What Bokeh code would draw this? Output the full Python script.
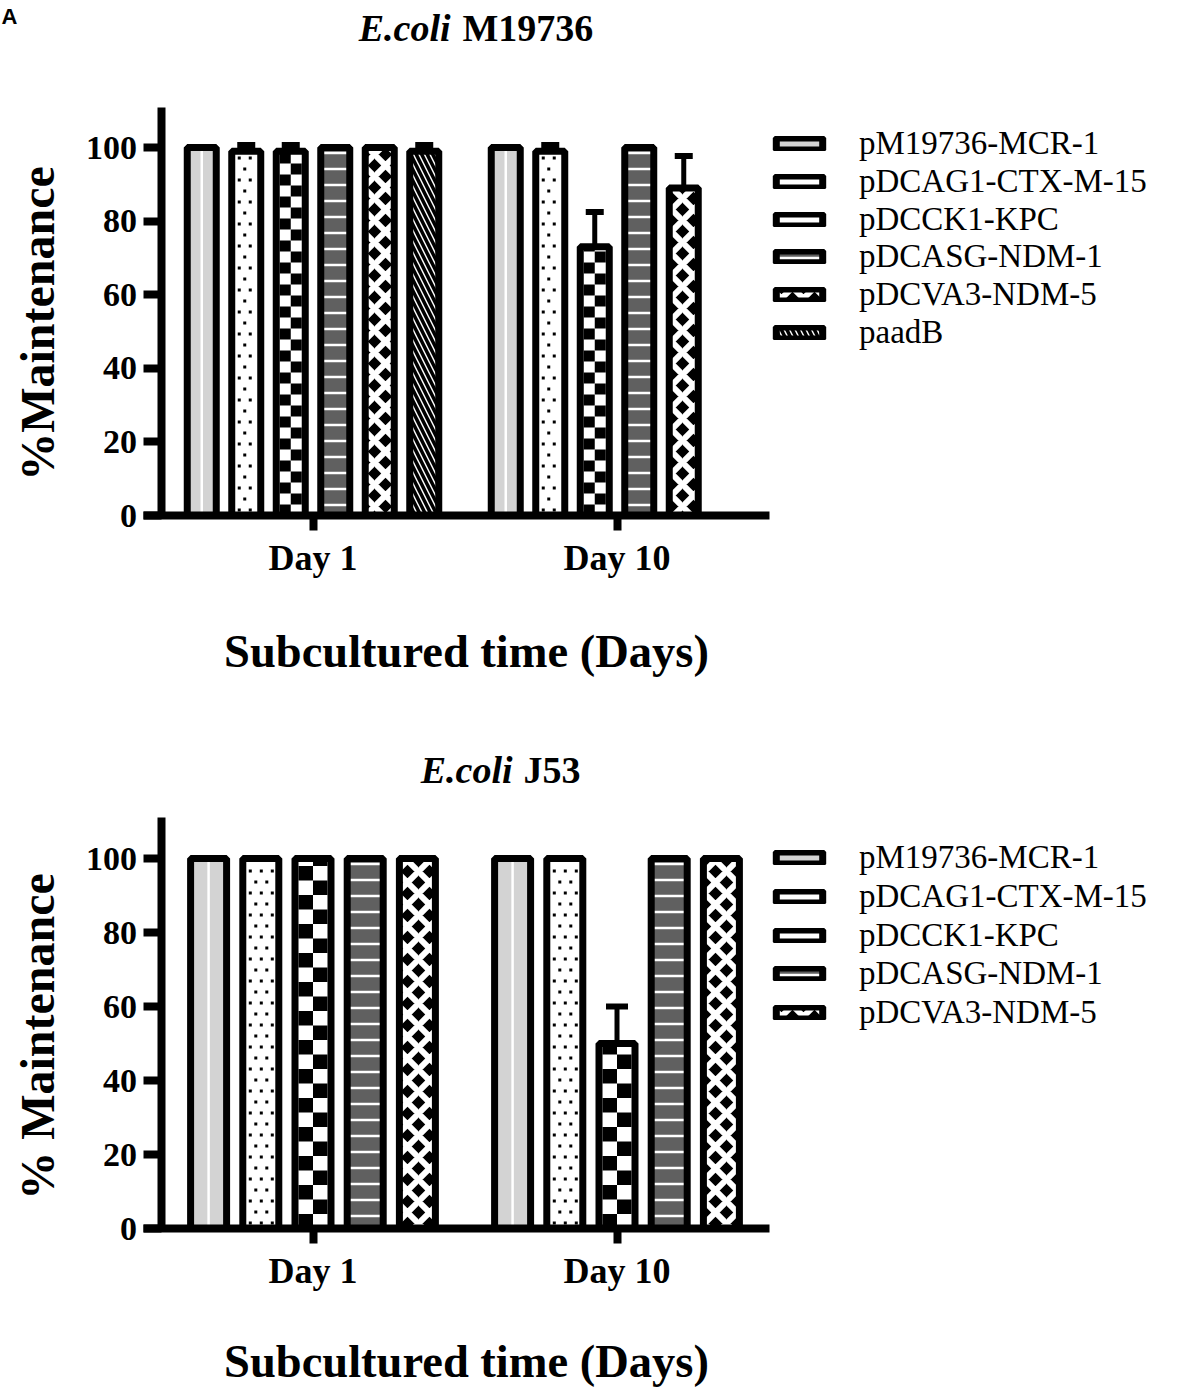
import math
from bokeh.plotting import figure
from bokeh.models import Range1d, FixedTicker, Legend, LegendItem, Label
from bokeh.layouts import column
from bokeh.embed import file_html
from bokeh.resources import INLINE

# ---------------- data ----------------
days = ["Day 1", "Day 10"]
y_ticks = [0, 20, 40, 60, 80, 100]
y_axis_max = 111

top_strain = "M19736"
top_series = ["pM19736-MCR-1", "pDCAG1-CTX-M-15", "pDCCK1-KPC",
              "pDCASG-NDM-1", "pDCVA3-NDM-5", "paadB"]
top_day1 = [100, 99, 99, 100, 100, 99]
top_day1_err = [0, 1.7, 1.7, 0, 0, 1.7]
top_day10 = [100, 99, 73, 100, 89, float("nan")]
top_day10_err = [0, 1.7, 9.5, 0, 8.7, 0]

bot_strain = "J53"
bot_series = ["pM19736-MCR-1", "pDCAG1-CTX-M-15", "pDCCK1-KPC",
              "pDCASG-NDM-1", "pDCVA3-NDM-5"]
bot_day1 = [100, 100, 100, 100, 100]
bot_day1_err = [0, 0, 0, 0, 0]
bot_day10 = [100, 100, 50, 100, 100]
bot_day10_err = [0, 0, 10, 0, 0]

# ---------------- styles ----------------
STYLES = [
    dict(fill_color="#d3d3d3"),
    dict(fill_color="white"),                       # dots drawn as small squares
    dict(fill_color="white"),                       # checkerboard drawn as squares
    dict(fill_color="#606060", hatch_pattern="horizontal_line",
         hatch_color="white", hatch_scale=16, hatch_weight=2.5),
    dict(fill_color="black", hatch_pattern="diagonal_cross",
         hatch_color="white", hatch_scale=22, hatch_weight=6),
    dict(fill_color="white", hatch_pattern="left_diagonal_line",
         hatch_color="black", hatch_scale=11, hatch_weight=3.5),
]
LEGEND_SWATCH = {
    1: dict(fill_color="white", hatch_pattern="dot", hatch_color="black",
            hatch_scale=9, hatch_weight=1),
    2: dict(fill_color="black", hatch_pattern="cross", hatch_color="white",
            hatch_scale=18, hatch_weight=9),
}

SERIF = "Liberation Serif"
PXU = 304.0        # px per x unit
X0_PX = 160.5      # px position of the y axis
FRAME_W = 1199
FRAME_H = 695
LINE_W = 7
LEGEND_FONT = "33px"
LEGEND_ITEM_H = 38
DOT_STEP = 11.0


def lab(p, x, y, text, size, style="bold", align="left", angle=0.0, font=SERIF):
    p.add_layout(Label(x=x, y=FRAME_H - y, x_units="screen", y_units="screen",
                       text=text, text_align=align, text_baseline="middle",
                       angle=angle, text_font=font, text_font_style=style,
                       text_font_size=size, text_color="black"))


def make_chart(series, vals, errs, strain, ylabel, y0_px, pyu, spacing_px,
               bar_px, cap_px, title_x, title_cy, xlabel_cy, ylabel_cy,
               legend_cy, legend_step, panel_letter=False):
    n = len(series)
    p = figure(x_range=Range1d(-X0_PX / PXU, (FRAME_W - X0_PX) / PXU),
               y_range=Range1d(-(FRAME_H - y0_px) / pyu, y0_px / pyu),
               frame_width=FRAME_W, frame_height=FRAME_H,
               min_border_left=0, min_border_right=0,
               min_border_top=0, min_border_bottom=0,
               output_backend="svg", toolbar_location=None)
    p.xgrid.visible = False
    p.ygrid.visible = False
    p.outline_line_color = None
    p.background_fill_color = "white"
    p.border_fill_color = "white"

    spacing = spacing_px / PXU
    width = (bar_px - LINE_W) / PXU
    cap = cap_px / PXU
    inner_px = bar_px - 2 * LINE_W
    sq_w = inner_px / 2 / PXU
    sq_h = inner_px / 2 / pyu
    for j in range(n):
        xs, tops, ex, et, ee = [], [], [], [], []
        for i in range(len(days)):
            v = vals[i][j]
            if math.isnan(v):
                continue
            x = i + 0.5 + (j - (n - 1) / 2) * spacing
            xs.append(x)
            tops.append(v)
            if errs[i][j] > 0:
                ex.append(x)
                et.append(v)
                ee.append(v + errs[i][j])
        fr = p.vbar(x=xs, top=tops, bottom=0, width=width, line_color=None,
                    **STYLES[j])
        legend_fill = fr
        if j == 0:
            p.segment(x0=xs, y0=[0] * len(xs), x1=xs, y1=tops,
                      line_color="white", line_width=2.5)
        if j == 1:
            dx, dy = [], []
            for x, v in zip(xs, tops):
                left = x - inner_px / 2 / PXU
                r = 0
                while (r + 0.5) * DOT_STEP / pyu < v - 1.0:
                    off = 4.0 if r % 2 == 0 else 9.5
                    while off <= inner_px - 2:
                        dx.append(left + off / PXU)
                        dy.append((r + 0.5) * DOT_STEP / pyu)
                        off += DOT_STEP
                    r += 1
            p.scatter(x=dx, y=dy, marker="square", size=3, fill_color="black",
                      line_color=None)
        if j == 2:
            ql, qr, qb, qt = [], [], [], []
            for x, v in zip(xs, tops):
                left = x - inner_px / 2 / PXU
                r = 0
                while r * sq_h < v:
                    c = r % 2
                    ql.append(left + c * sq_w)
                    qr.append(left + (c + 1) * sq_w)
                    qb.append(r * sq_h)
                    qt.append(min((r + 1) * sq_h, v))
                    r += 1
            p.quad(left=ql, right=qr, bottom=qb, top=qt, fill_color="black",
                   line_color=None)
        if j in LEGEND_SWATCH:
            legend_fill = p.vbar(x=[], top=[], bottom=0, width=width,
                                 line_color=None, **LEGEND_SWATCH[j])
        orr = p.vbar(x=xs, top=tops, bottom=0, width=width, fill_color=None,
                     line_color="black", line_width=LINE_W)
        if ex:
            p.segment(x0=ex, y0=et, x1=ex, y1=ee, line_color="black", line_width=5)
            p.segment(x0=[x - cap for x in ex], y0=ee, x1=[x + cap for x in ex],
                      y1=ee, line_color="black", line_width=6)
        cy = legend_cy + j * legend_step
        lg = Legend(items=[LegendItem(label=series[j],
                                      renderers=[legend_fill, orr])],
                    location=(770, FRAME_H - cy - LEGEND_ITEM_H / 2),
                    margin=0, padding=0, border_line_color=None,
                    background_fill_alpha=0, glyph_width=58, glyph_height=15,
                    label_standoff=31, label_text_font=SERIF,
                    label_text_font_size=LEGEND_FONT, label_text_color="black")
        p.add_layout(lg)

    # y axis (drawn at x = 0)
    ya = p.yaxis[0]
    ya.fixed_location = 0
    ya.bounds = (0, y_axis_max)
    ya.ticker = FixedTicker(ticks=y_ticks)
    ya.axis_line_width = 8
    ya.major_tick_line_width = 8
    ya.major_tick_in = 0
    ya.major_tick_out = 18
    ya.minor_tick_line_color = None
    ya.major_label_text_font = SERIF
    ya.major_label_text_font_style = "bold"
    ya.major_label_text_font_size = "34px"
    ya.major_label_text_color = "black"
    ya.major_label_standoff = 6

    # x axis (drawn at y = 0)
    xa = p.xaxis[0]
    xa.fixed_location = 0
    xa.bounds = (-17.5 / PXU, 2.0)
    xa.ticker = FixedTicker(ticks=[i + 0.5 for i in range(len(days))])
    xa.major_label_overrides = {i + 0.5: d for i, d in enumerate(days)}
    xa.axis_line_width = 8
    xa.major_tick_line_width = 8
    xa.major_tick_in = 0
    xa.major_tick_out = 15
    xa.minor_tick_line_color = None
    xa.major_label_text_font = SERIF
    xa.major_label_text_font_style = "bold"
    xa.major_label_text_font_size = "36px"
    xa.major_label_text_color = "black"
    xa.major_label_standoff = 7

    # texts
    lab(p, 466, xlabel_cy, "Subcultured time (Days)", "46.5px", align="center")
    lab(p, 37, ylabel_cy, ylabel, "48px", align="center", angle=math.pi / 2)
    lab(p, title_x[0], title_cy, "E.coli", "38px", style="bold italic",
        align="right")
    lab(p, title_x[1], title_cy, strain, "38px", align="left")
    if panel_letter:
        lab(p, 1, 16, "A", "22px", font="Liberation Sans")
    return p


top = make_chart(top_series, [top_day1, top_day10], [top_day1_err, top_day10_err],
                 top_strain, "%Maintenance", 515, 3.68, 44.5, 36, 9,
                 (450, 462), 27.5, 651, 323, 143, 37.8, panel_letter=True)
bot = make_chart(bot_series, [bot_day1, bot_day10], [bot_day1_err, bot_day10_err],
                 bot_strain, "% Maintenance", 533, 3.70, 52.2, 43, 11,
                 (512, 523), 769.5 - 695, 1361 - 695, 1036 - 695,
                 857 - 695, 38.75)

layout = column(top, bot)
open("out.html", "w").write(file_html(layout, INLINE))
